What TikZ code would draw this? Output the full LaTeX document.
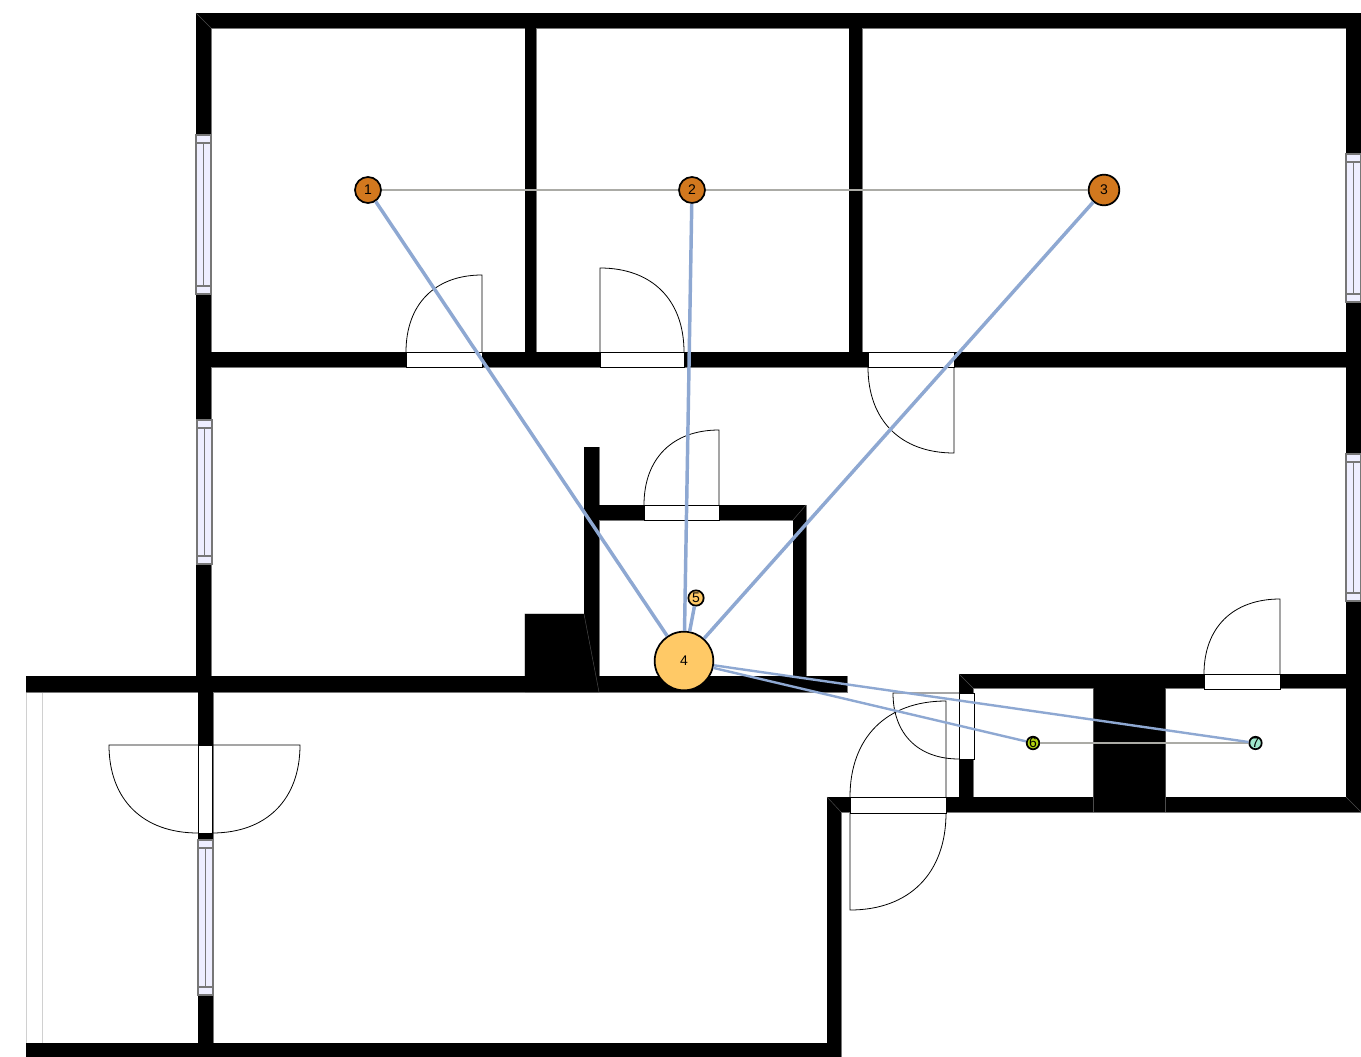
\documentclass[tikz,border=0pt]{standalone}
\usepackage{fontspec}
\setmainfont{Liberation Sans}
\usepackage{xcolor}
\usetikzlibrary{calc}
\definecolor{seam}{HTML}{777777}
\definecolor{pane}{HTML}{EEEEFF}
\definecolor{rust}{HTML}{D2781E}
\definecolor{amber}{HTML}{FFC966}
\definecolor{lime}{HTML}{B0D010}
\definecolor{mint}{HTML}{A0E8CC}
\definecolor{linkBlue}{HTML}{8EA8D2}
\definecolor{linkGrey}{HTML}{ABABA6}
\definecolor{porch}{HTML}{D0D0D0}
\tikzset{
  wallEdge/.style={draw=seam, line width=0.6pt},
  wallFill/.style={fill=black},
  seamLine/.style={draw=black!70, line width=0.35pt},
  doorFrame/.style={draw=black, fill=white, line width=0.6pt},
  doorLeaf/.style={draw=black, line width=0.6pt},
  winFrame/.style={draw=seam, fill=pane, line width=0.8pt},
  winBar/.style={draw=seam, line width=1pt},
  porchLine/.style={draw=porch, line width=0.6pt},
  roomDot/.style={circle, draw=black, line width=1.3pt, inner sep=0pt, font=\fontsize{10.5}{11}\selectfont},
  linkMain/.style={draw=linkBlue, line width=2.6pt},
  linkThin/.style={draw=linkBlue, line width=1.8pt},
  linkRoom/.style={draw=linkGrey, line width=2pt},
}
\newcommand{\WallList}{196/13/1361/28, 196/13/211/677, 198/677/213/1043, 525/13/536/352,
  849/13/862/352, 1346/13/1361/812, 197/352/1361/367, 584/447/599/692, 584/505/806/520,
  793/505/806/692, 26/676/847/692, 26/1043/841/1057, 959/674/1346/688, 959/674/973/812,
  827/797/1361/812, 1093/674/1165/812, 827/797/841/1057}
% hinge, tip, frame end
\newcommand{\DoorLeaf}[3]{%
  \draw[doorLeaf] #1 -- #2 .. controls ($#2+0.62*#3-0.62*#1$) and ($#3+0.62*#2-0.62*#1$) .. #3;
}
\newcommand{\WinV}[4]{%
  \draw[winFrame] (#1,#3) rectangle (#2,#4);
  \draw[winFrame] (#1,#3+8) rectangle (#2,#4-8);
  \draw[winBar] ({(#1+#2)/2},#3+8) -- ({(#1+#2)/2},#4-8);
}

\begin{document}
\begin{tikzpicture}[x=0.75pt, y=-0.75pt]
  \useasboundingbox (0,0) rectangle (1361,1057);

  % porch
  \draw[porchLine] (26,692) -- (26,1043);
  \draw[porchLine] (42,692) -- (42,1043);

  % walls
  \foreach \xa/\ya/\xb/\yb in \WallList
    \draw[wallEdge] (\xa,\ya) rectangle (\xb,\yb);
  \draw[wallEdge] (525,614) -- (584,614) -- (599,692) -- (525,692) -- cycle;
  \foreach \xa/\ya/\xb/\yb in \WallList
    \fill[wallFill] (\xa,\ya) rectangle (\xb,\yb);
  \fill[wallFill] (525,614) -- (584,614) -- (599,692) -- (525,692) -- cycle;
  \draw[seamLine] (584,614) -- (599,692);
  \draw[seamLine] (1093,688) -- (1093,812);
  \draw[seamLine] (1165,688) -- (1165,812);
  \draw[seamLine] (196,13) -- (211,28);
  \draw[seamLine] (806,505) -- (793,520);
  \draw[seamLine] (959,674) -- (973,688);
  \draw[seamLine] (827,797) -- (841,812);
  \draw[seamLine] (1361,812) -- (1346,797);

  % windows
  \WinV{196}{211}{135}{294}
  \WinV{197}{212}{420}{564}
  \WinV{198}{213}{840}{995}
  \WinV{1346}{1361}{154}{302}
  \WinV{1346}{1361}{454}{601}

  % doors
  \draw[doorFrame] (406,352) rectangle (482,367);
  \DoorLeaf{(482,352)}{(482,275)}{(406,352)}
  \draw[doorFrame] (600,352) rectangle (684,367);
  \DoorLeaf{(600,352)}{(600,268)}{(684,352)}
  \draw[doorFrame] (868,352) rectangle (954,367);
  \DoorLeaf{(954,367)}{(954,453)}{(868,367)}
  \draw[doorFrame] (644,505) rectangle (719,520);
  \DoorLeaf{(719,505)}{(719,430)}{(644,505)}
  \draw[doorFrame] (1204,674) rectangle (1280,689);
  \DoorLeaf{(1280,674)}{(1280,599)}{(1204,674)}
  \draw[doorFrame] (959,693) rectangle (974,759);
  \DoorLeaf{(959,693)}{(893,693)}{(959,759)}
  \draw[doorFrame] (850,797) rectangle (946,813);
  \DoorLeaf{(946,797)}{(946,701)}{(850,797)}
  \DoorLeaf{(850,813)}{(850,910)}{(946,813)}
  \draw[doorFrame] (198,745) rectangle (212,833);
  \DoorLeaf{(198,745)}{(109,745)}{(198,833)}
  \DoorLeaf{(212,745)}{(300,745)}{(212,833)}

  % routers
  \node[roomDot, fill=rust, minimum size=19.5pt] (n1) at (368,190) {1};
  \node[roomDot, fill=rust, minimum size=19.5pt] (n2) at (692,190) {2};
  \node[roomDot, fill=rust, minimum size=23pt] (n3) at (1104,190) {3};
  \node[roomDot, fill=amber, minimum size=44pt] (n4) at (684,661) {4};
  \node[roomDot, fill=amber, minimum size=11.5pt] (n5) at (696,598) {5};
  \node[roomDot, fill=lime, minimum size=9pt] (n6) at (1033,743) {6};
  \node[roomDot, fill=mint, minimum size=9pt] (n7) at (1255.5,743) {7};

  \draw[linkRoom] (n1) -- (n2);
  \draw[linkRoom] (n2) -- (n3);
  \draw[linkRoom] (n6) -- (n7);
  \draw[linkMain] (n1) -- (n4);
  \draw[linkMain] (n2) -- (n4);
  \draw[linkMain] (n3) -- (n4);
  \draw[linkMain] (n5) -- (n4);
  \draw[linkThin] (n4) -- (n6);
  \draw[linkThin] (n4) -- (n7);
\end{tikzpicture}
\end{document}
